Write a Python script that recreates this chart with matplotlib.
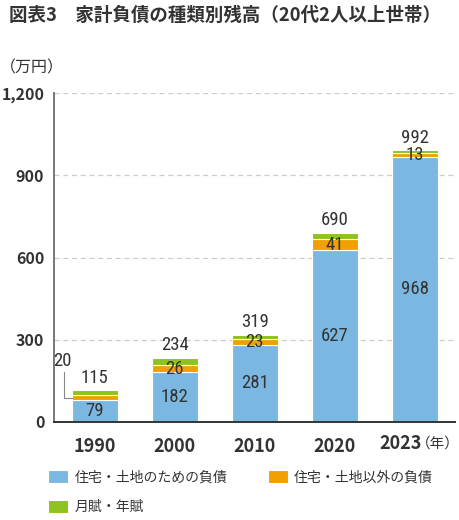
import matplotlib
matplotlib.use("Agg")
import matplotlib.pyplot as plt
import numpy as np

# DATA
years = ["1990", "2000", "2010", "2020", "2023"]
housing = [79, 182, 281, 627, 968]
non_housing = [20, 26, 23, 41, 13]
installment = [16, 26, 15, 22, 11]
totals = [115, 234, 319, 690, 992]
series_names = ["住宅・土地のための負債", "住宅・土地以外の負債", "月賦・年賦"]
yticks = [0, 300, 600, 900, 1200]
ytick_labels = ["0", "300", "600", "900", "1,200"]

JP = ["Noto Sans CJK JP", "DejaVu Sans"]
NUM = ["Roboto Condensed", "Noto Sans CJK JP", "DejaVu Sans"]
plt.rcParams["font.family"] = JP

blue = "#7ab8e2"
orange = "#f0a000"
green = "#8dc21f"
txt = "#333333"

fig = plt.figure(figsize=(4.6, 5.2), dpi=100)
ax = fig.add_axes([0.1174, 0.1885, 0.8716, 0.6325])

x = np.arange(len(years))
w = 0.575
h = np.array(housing)
n = np.array(non_housing)
m = np.array(installment)

b1 = ax.bar(x, h, w, color=blue, edgecolor="white", linewidth=0.8, zorder=3)
b2 = ax.bar(x, n, w, bottom=h, color=orange, edgecolor="white", linewidth=0.8, zorder=3)
b3 = ax.bar(x, m, w, bottom=h + n, color=green, edgecolor="white", linewidth=0.8, zorder=3)

# labels inside segments
for i in range(len(years)):
    ax.text(x[i], h[i] / 2, str(housing[i]), ha="center", va="center",
            fontsize=13.5, color=txt, family=NUM, zorder=4)
    if i > 0:
        ax.text(x[i], h[i] + n[i] / 2, str(non_housing[i]), ha="center", va="center",
                fontsize=13.5, color=txt, family=NUM, zorder=4)
    ax.annotate(str(totals[i]), (x[i], totals[i]), xytext=(0, 2.5),
                textcoords="offset points", ha="center", va="bottom",
                fontsize=13.5, color=txt, family=NUM, zorder=4)

# 1990 non-housing label with leader line
left = x[0] - w / 2
mid = h[0] + n[0] / 2
ax.plot([left - 0.1, left - 0.1, left], [182, mid, mid], color="#888888",
        linewidth=0.8, zorder=4, clip_on=False)
ax.text(left - 0.12, 222, str(non_housing[0]), ha="center", va="center",
        fontsize=13.5, color=txt, family=NUM, zorder=4)

ax.set_xlim(-0.51, 4.5)
ax.set_ylim(0, 1200)
ax.set_yticks(yticks)
ax.set_yticklabels(ytick_labels, fontsize=11.5, fontweight="bold", color=txt)
ax.set_xticks(x)
ax.set_xticklabels(years[:-1] + [""], fontsize=13, fontweight="bold", color=txt)
ax.tick_params(axis="both", length=0)
ax.tick_params(axis="y", pad=7)
ax.tick_params(axis="x", pad=11)

ax.annotate(years[-1], (x[-1] + 0.08, 0), xycoords="data", xytext=(0, -15.5),
            textcoords="offset points", ha="right", va="center",
            fontsize=13, fontweight="bold", color=txt)
ax.annotate("（年）", (x[-1] + 0.08, 0), xycoords="data", xytext=(-4, -15.5),
            textcoords="offset points", ha="left", va="center",
            fontsize=10.5, color=txt, annotation_clip=False)

ax.grid(axis="y", color="#cccccc", linestyle=(0, (4, 3)), linewidth=0.9, zorder=0)
for s in ["top", "right"]:
    ax.spines[s].set_visible(False)
ax.spines["left"].set_color("#777777")
ax.spines["left"].set_linewidth(1.4)
ax.spines["bottom"].set_color("#333333")
ax.spines["bottom"].set_linewidth(1.4)
ax.spines["bottom"].set_zorder(5)

fig.text(0.02, 0.971, "図表3　家計負債の種類別残高（20代2人以上世帯）",
         fontsize=13.3, fontweight="bold", color=txt, va="center", ha="left")
fig.text(0.0, 0.869, "（万円）", fontsize=11.5, color=txt, va="center", ha="left")

leg = fig.legend([b1, b3, b2], [series_names[0], series_names[2], series_names[1]],
                 ncol=2, loc="upper left", bbox_to_anchor=(0.105, 0.096),
                 frameon=False, fontsize=10, handlelength=1.45, handleheight=1.1,
                 handletextpad=0.45, columnspacing=2.9, labelspacing=1.1,
                 borderaxespad=0, borderpad=0)
for t in leg.get_texts():
    t.set_color(txt)

fig.savefig("out.png", dpi=100)
